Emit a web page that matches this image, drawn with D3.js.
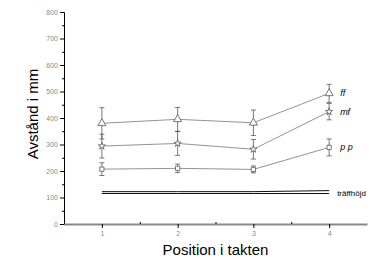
<!DOCTYPE html>
<html>
<head>
<meta charset="utf-8">
<script src="https://cdn.jsdelivr.net/npm/d3@7"></script>
<style>
  body { margin: 0; background: #fff; }
  svg { display: block; font-family: "Liberation Sans", Arial, sans-serif; }
</style>
</head>
<body>
<div id="chart"></div>
<script>
// values
const positions = [1, 2, 3, 4];
const ffValues = [380, 395, 382, 493];
const ffErr = [59, 45, 48, 34];
const mfValues = [294, 304, 282, 424];
const mfErr = [45, 45, 37, 31];
const ppValues = [207, 210, 206, 289];
const ppErr = [24, 16, 13, 32];
const traffUpper = [122, 122, 122, 126];
const traffLower = [115, 115, 115, 115];
const yTicks = [0, 100, 200, 300, 400, 500, 600, 700, 800];
const yMinor = [50, 150, 250, 350, 450, 550, 650, 750];
const xMinor = [1.5, 2.5, 3.5];

const width = 384, height = 270;
const svg = d3.select("#chart").append("svg")
  .attr("width", width).attr("height", height);

const x = d3.scaleLinear().domain([0.5, 4.5]).range([64, 367]);
const y = d3.scaleLinear().domain([0, 800]).range([224, 12]);

// y axis
const yAxis = svg.append("g")
  .attr("transform", "translate(" + x(0.5) + ",0)")
  .call(d3.axisLeft(y).tickValues(yTicks).tickSize(4).tickPadding(2));
yAxis.select(".domain").attr("stroke", "#000");
yAxis.selectAll("text").attr("fill", "#888").style("font-size", "7px");
svg.append("g")
  .attr("transform", "translate(" + x(0.5) + ",0)")
  .call(d3.axisLeft(y).tickValues(yMinor).tickSize(2).tickFormat(""))
  .select(".domain").remove();

// x axis
const xAxis = svg.append("g")
  .attr("transform", "translate(0," + y(0) + ")")
  .call(d3.axisBottom(x).tickValues(positions).tickFormat(d3.format("d"))
    .tickSize(4).tickPadding(3).tickSizeOuter(0));
xAxis.select(".domain").attr("stroke", "#888").attr("stroke-width", 2);
xAxis.selectAll("text").attr("fill", "#888").style("font-size", "7px");
svg.append("g")
  .attr("transform", "translate(0," + y(0) + ")")
  .call(d3.axisTop(x).tickValues(xMinor).tickSize(2).tickFormat(""))
  .select(".domain").remove();

// titles
svg.append("text")
  .attr("transform", "translate(38," + y(415) + ") rotate(-90)")
  .attr("text-anchor", "middle")
  .style("font-size", "15px")
  .text("Avstånd i mm");
svg.append("text")
  .attr("x", x(2.5)).attr("y", 255)
  .attr("text-anchor", "middle")
  .style("font-size", "15px")
  .text("Position i takten");

// träffhöjd lines
const line = d3.line()
  .x((d, i) => x(positions[i]))
  .y(d => y(d));
[traffUpper, traffLower].forEach(vals => {
  svg.append("path")
    .attr("d", line(vals))
    .attr("fill", "none")
    .attr("stroke", "#111")
    .attr("stroke-width", 1);
});
svg.append("text")
  .attr("x", x(4) + 8).attr("y", y(118) + 3)
  .style("font-size", "8px")
  .text("träffhöjd");

// series
const series = [
  { name: "ff", values: ffValues, err: ffErr, symbol: d3.symbolTriangle, size: 28 },
  { name: "mf", values: mfValues, err: mfErr, symbol: d3.symbolStar, size: 16 },
  { name: "pp", values: ppValues, err: ppErr, symbol: d3.symbolSquare, size: 18 }
];

series.forEach(s => {
  const g = svg.append("g");
  g.append("path")
    .attr("d", line(s.values))
    .attr("fill", "none")
    .attr("stroke", "#777")
    .attr("stroke-width", 0.8);
  s.values.forEach((v, i) => {
    const cx = x(positions[i]);
    const top = y(v + s.err[i]), bot = y(v - s.err[i]);
    g.append("line").attr("x1", cx).attr("x2", cx).attr("y1", top).attr("y2", bot)
      .attr("stroke", "#555").attr("stroke-width", 0.8);
    [top, bot].forEach(yy => {
      g.append("line").attr("x1", cx - 2.5).attr("x2", cx + 2.5).attr("y1", yy).attr("y2", yy)
        .attr("stroke", "#555").attr("stroke-width", 0.8);
    });
    g.append("path")
      .attr("d", d3.symbol().type(s.symbol).size(s.size)())
      .attr("transform", "translate(" + cx + "," + y(v) + ")")
      .attr("fill", "#fff")
      .attr("stroke", "#555")
      .attr("stroke-width", 0.8);
  });
  g.append("text")
    .attr("x", x(4) + 11)
    .attr("y", y(s.values[3]) + 3)
    .style("font-size", "9px")
    .style("font-style", "italic")
    .text(s.name === "pp" ? "p p" : s.name);
});
</script>
</body>
</html>
